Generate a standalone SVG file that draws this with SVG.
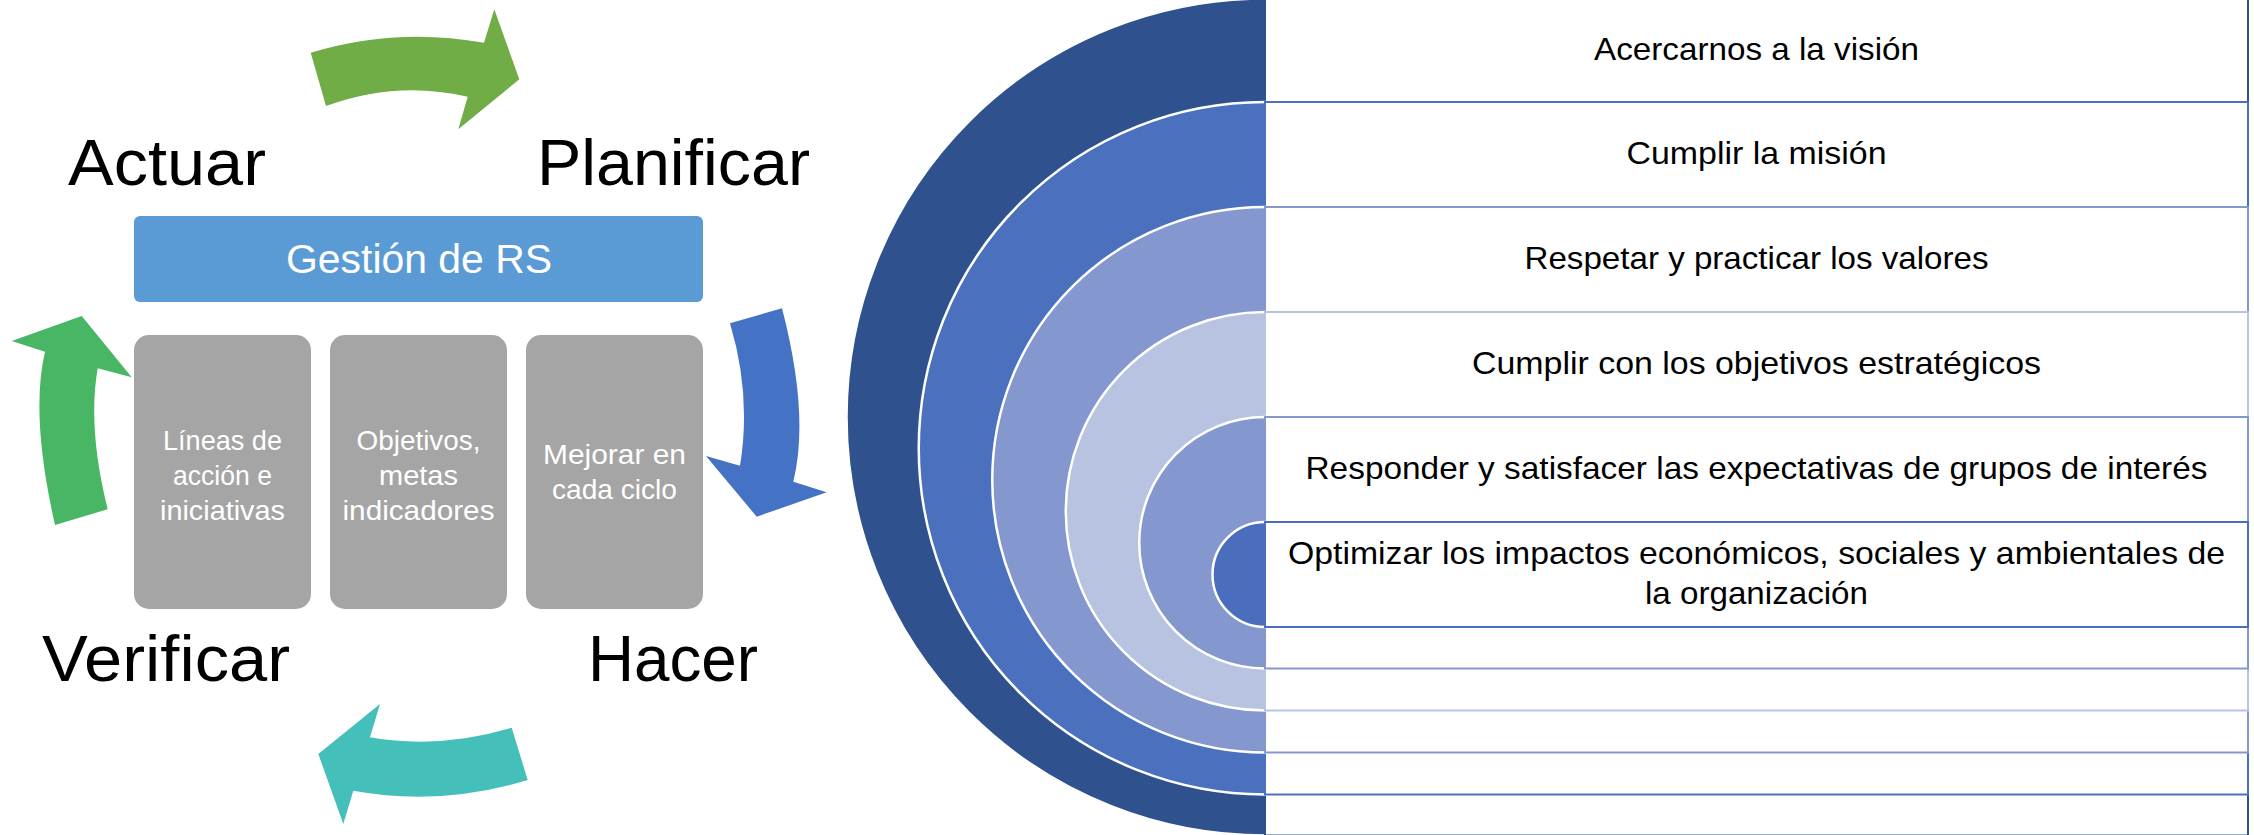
<svg xmlns="http://www.w3.org/2000/svg" width="2254" height="835" viewBox="0 0 2254 835">
<style>
text{font-family:"Liberation Sans",Arial,sans-serif;text-anchor:middle}
.big{font-size:64px;fill:#000}
.gs{font-size:41px;fill:#fff}
.gt{font-size:27.5px;fill:#fff}
.tt{font-size:31.5px;fill:#000}
.gray{fill:#A5A5A5}
.ring{stroke:#fff;stroke-width:2.5}
.row{fill:#fff;stroke-width:2}
</style>
<rect width="2254" height="835" fill="#fff"/>

<g id="connectors">
<path id="arrow-actuar-planificar" fill="#70AD47" d="M310.7,52.7 Q396,26.9 484,42.7 L494.3,9.3 L519.3,79.3 L458.3,129.3 L467.7,96.7 Q396.5,80 326,106 Z"/>
<path id="arrow-planificar-hacer" fill="#4472C4" d="M730,323.3 L782,308.3 Q809.75,415 793.3,481.7 L826.7,492.3 L756.7,516.7 L706,456 L740,465.7 Q751.6,395.5 730,323.3 Z"/>
<path id="arrow-hacer-verificar" fill="#44BFB9" d="M511.7,727.7 L527.7,780 Q439.5,806.65 353.3,790.7 L343.3,824 L318.3,754 L380,704 L370,737.3 Q439.15,749.5 511.7,727.7 Z"/>
<path id="arrow-verificar-actuar" fill="#48B665" d="M55,525 L107.7,509.3 Q87.3,427.8 97.7,368.3 L131.7,377.3 L81.7,316 L11.7,341 L45,351.7 Q30,415 55,525 Z"/>
</g>

<g id="label-actuar"><text class="big" x="167" y="185" textLength="198" lengthAdjust="spacingAndGlyphs">Actuar</text></g>
<g id="label-planificar"><text class="big" x="673.5" y="185" textLength="273" lengthAdjust="spacingAndGlyphs">Planificar</text></g>
<g id="label-verificar"><text class="big" x="166" y="681" textLength="248" lengthAdjust="spacingAndGlyphs">Verificar</text></g>
<g id="label-hacer"><text class="big" x="673" y="681" textLength="170" lengthAdjust="spacingAndGlyphs">Hacer</text></g>

<g id="gestion-rs">
<rect x="134" y="216" width="569" height="86" rx="6" fill="#5B9BD5"/>
<text class="gs" x="419" y="273" textLength="266" lengthAdjust="spacingAndGlyphs">Gestión de RS</text>
</g>

<g id="box-lineas">
<rect class="gray" x="134" y="335" width="177" height="274" rx="15"/>
<text class="gt" x="222.5" y="450" textLength="119" lengthAdjust="spacingAndGlyphs">Líneas de</text>
<text class="gt" x="222.5" y="485" textLength="99" lengthAdjust="spacingAndGlyphs">acción e</text>
<text class="gt" x="222.5" y="520" textLength="125" lengthAdjust="spacingAndGlyphs">iniciativas</text>
</g>
<g id="box-objetivos">
<rect class="gray" x="330" y="335" width="177" height="274" rx="15"/>
<text class="gt" x="418.5" y="450" textLength="124" lengthAdjust="spacingAndGlyphs">Objetivos,</text>
<text class="gt" x="418.5" y="485" textLength="79" lengthAdjust="spacingAndGlyphs">metas</text>
<text class="gt" x="418.5" y="520" textLength="152" lengthAdjust="spacingAndGlyphs">indicadores</text>
</g>
<g id="box-mejorar">
<rect class="gray" x="526" y="335" width="177" height="274" rx="15"/>
<text class="gt" x="614.5" y="464" textLength="143" lengthAdjust="spacingAndGlyphs">Mejorar en</text>
<text class="gt" x="614.5" y="499" textLength="125" lengthAdjust="spacingAndGlyphs">cada ciclo</text>
</g>

<g id="target-1">
<circle class="ring" cx="1265" cy="417" r="418.5" fill="#2F528F"/>
<rect class="row" x="1265" y="-1.5" width="983" height="837" stroke="#2F528F"/>
<text class="tt" x="1756.5" y="59.5" textLength="325" lengthAdjust="spacingAndGlyphs">Acercarnos a la visión</text>
</g>
<g id="target-2">
<circle class="ring" cx="1265" cy="448.25" r="346.25" fill="#4A70BE"/>
<rect class="row" x="1265" y="102" width="983" height="692.5" stroke="#4A70BE"/>
<text class="tt" x="1756.5" y="163.5" textLength="260" lengthAdjust="spacingAndGlyphs">Cumplir la misión</text>
</g>
<g id="target-3">
<circle class="ring" cx="1265" cy="479.75" r="272.75" fill="#8497CE"/>
<rect class="row" x="1265" y="207" width="983" height="545.5" stroke="#8497CE"/>
<text class="tt" x="1756.5" y="268.5" textLength="464" lengthAdjust="spacingAndGlyphs">Respetar y practicar los valores</text>
</g>
<g id="target-4">
<circle class="ring" cx="1265" cy="511.25" r="199.25" fill="#B7C3E0"/>
<rect class="row" x="1265" y="312" width="983" height="398.5" stroke="#B7C3E0"/>
<text class="tt" x="1756.5" y="373.5" textLength="569" lengthAdjust="spacingAndGlyphs">Cumplir con los objetivos estratégicos</text>
</g>
<g id="target-5">
<circle class="ring" cx="1265" cy="542.75" r="125.75" fill="#8497CE"/>
<rect class="row" x="1265" y="417" width="983" height="251.5" stroke="#8497CE"/>
<text class="tt" x="1756.5" y="478.5" textLength="902" lengthAdjust="spacingAndGlyphs">Responder y satisfacer las expectativas de grupos de interés</text>
</g>
<g id="target-6">
<circle class="ring" cx="1265" cy="574.5" r="52.5" fill="#4A6EBD"/>
<rect class="row" x="1265" y="522" width="983" height="105" stroke="#4A6EBD"/>
<text class="tt" x="1756.5" y="563.5" textLength="937" lengthAdjust="spacingAndGlyphs">Optimizar los impactos económicos, sociales y ambientales de</text>
<text class="tt" x="1756.5" y="604" textLength="223" lengthAdjust="spacingAndGlyphs">la organización</text>
</g>
</svg>
